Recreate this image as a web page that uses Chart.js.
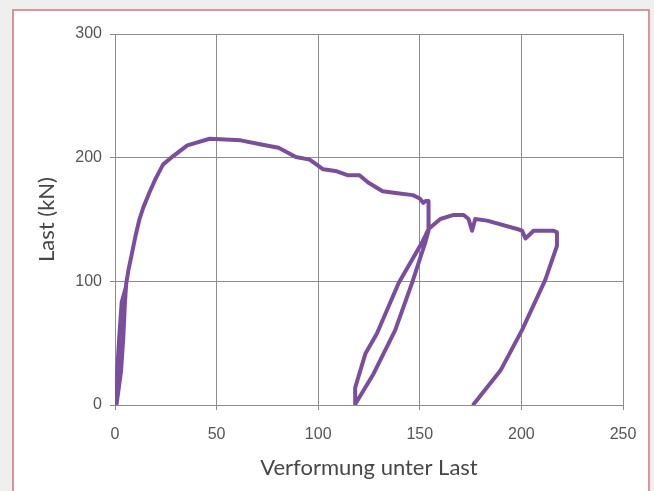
<!DOCTYPE html>
<html>
<head>
<meta charset="utf-8">
<script src="https://cdn.jsdelivr.net/npm/chart.js@4"></script>
<style>
  html, body { margin:0; padding:0; width:654px; height:491px; overflow:hidden; background:#eef0ef; }
  #frame { position:absolute; left:12px; top:9px; width:634px; height:500px; background:#ffffff;
           border-left:2px solid #de939c; border-top:2px solid #de939c; border-right:2px solid #de939c; }
  #c { position:absolute; left:0; top:0; }
</style>
</head>
<body>
<div id="frame"></div>
<canvas id="c" width="654" height="491"></canvas>
<script>
// Verformung unter Last (x) and Last in kN (y)
const deformation = [
  0.8, 3.0, 4.1, 4.9, 5.3, 3.3, 2.1, 1.1, 0.8, 3.0, 4.1, 4.9, 5.5,
  6.6, 8.0, 10.0, 12.0, 14.0, 17.0, 20.0, 23.7, 28.8, 35.6, 46.6, 61.9, 72.0, 80.5, 89.0, 95.8,
  102.5, 108.5, 114.4, 120.3, 124.6, 131.7, 138.1, 146.6, 150.0, 151.7, 153.0, 154.3, 154.3,
  152.7, 146.2, 137.9, 127.2, 118.2,
  118.2, 123.2, 128.9, 139.6, 151.1, 154.3, 160.1, 166.7, 171.6, 174.0, 175.7, 177.3,
  183.1, 197.9, 200.3, 202.0, 206.0, 215.9, 217.5, 217.5,
  211.8, 200.3, 189.7, 176.5
];
const load = [
  1, 28, 55, 83, 95, 83, 55, 28, 3, 28, 55, 83, 98,
  109, 120, 136, 150, 160, 172, 183, 194.6, 201.5, 210, 215.3, 214, 210.7, 208, 200.5, 198.4,
  190.6, 189.3, 185.8, 185.8, 179.9, 172.9, 171.5, 169.7, 167, 163.5, 165, 165, 141,
  131.4, 98.7, 60.5, 25.1, 0.6,
  14.1, 41.4, 57.8, 98.7, 131.4, 142.3, 150.4, 153.7, 153.7, 150.4, 140.9, 150.4,
  149.1, 142.3, 141, 134.7, 140.9, 140.9, 139.6, 128.6,
  101.4, 60.5, 27.8, 0.6
];
const xTicks = [0, 50, 100, 150, 200, 250];
const yTicks = [0, 100, 200, 300];
const xTitle = 'Verformung unter Last';
const yTitle = 'Last (kN)';

const points = deformation.map((x, i) => ({ x: x, y: load[i] }));
const gridColor = '#8c8c8c';
const tickFont = { family: '"Liberation Sans", Arial, sans-serif', size: 16 };
const titleFont = { family: 'Lato, "Open Sans", sans-serif', size: 22 };

new Chart(document.getElementById('c'), {
  type: 'scatter',
  data: {
    datasets: [{
      data: points,
      showLine: true,
      borderColor: '#7a4d9e',
      backgroundColor: '#7a4d9e',
      borderWidth: 4,
      pointRadius: 0,
      tension: 0,
      borderJoinStyle: 'round',
      borderCapStyle: 'round'
    }]
  },
  options: {
    responsive: false,
    animation: false,
    devicePixelRatio: 1,
    layout: { padding: { left: 0, top: 34, right: 31, bottom: 0 } },
    plugins: { legend: { display: false }, tooltip: { enabled: false } },
    scales: {
      x: {
        type: 'linear',
        min: xTicks[0], max: xTicks[xTicks.length - 1],
        afterBuildTicks: s => { s.ticks = xTicks.map(v => ({ value: v })); },
        afterFit: s => { s.height = 86; },
        grid: { color: gridColor, lineWidth: 1, tickLength: 5, drawTicks: true },
        border: { color: gridColor, width: 1 },
        ticks: { color: '#555', font: tickFont, padding: 15, maxRotation: 0 },
        title: { display: true, text: xTitle, color: '#474747', font: titleFont, padding: { top: 4, bottom: 10 } }
      },
      y: {
        type: 'linear',
        min: yTicks[0], max: yTicks[yTicks.length - 1],
        afterBuildTicks: s => { s.ticks = yTicks.map(v => ({ value: v })); },
        afterFit: s => { s.width = 115; },
        grid: { color: gridColor, lineWidth: 1, tickLength: 5, drawTicks: true },
        border: { color: gridColor, width: 1 },
        ticks: { color: '#555', font: tickFont, padding: 8 },
        title: { display: true, text: yTitle, color: '#474747', font: titleFont, padding: { top: 34, bottom: 0 } }
      }
    }
  }
});
</script>
</body>
</html>
